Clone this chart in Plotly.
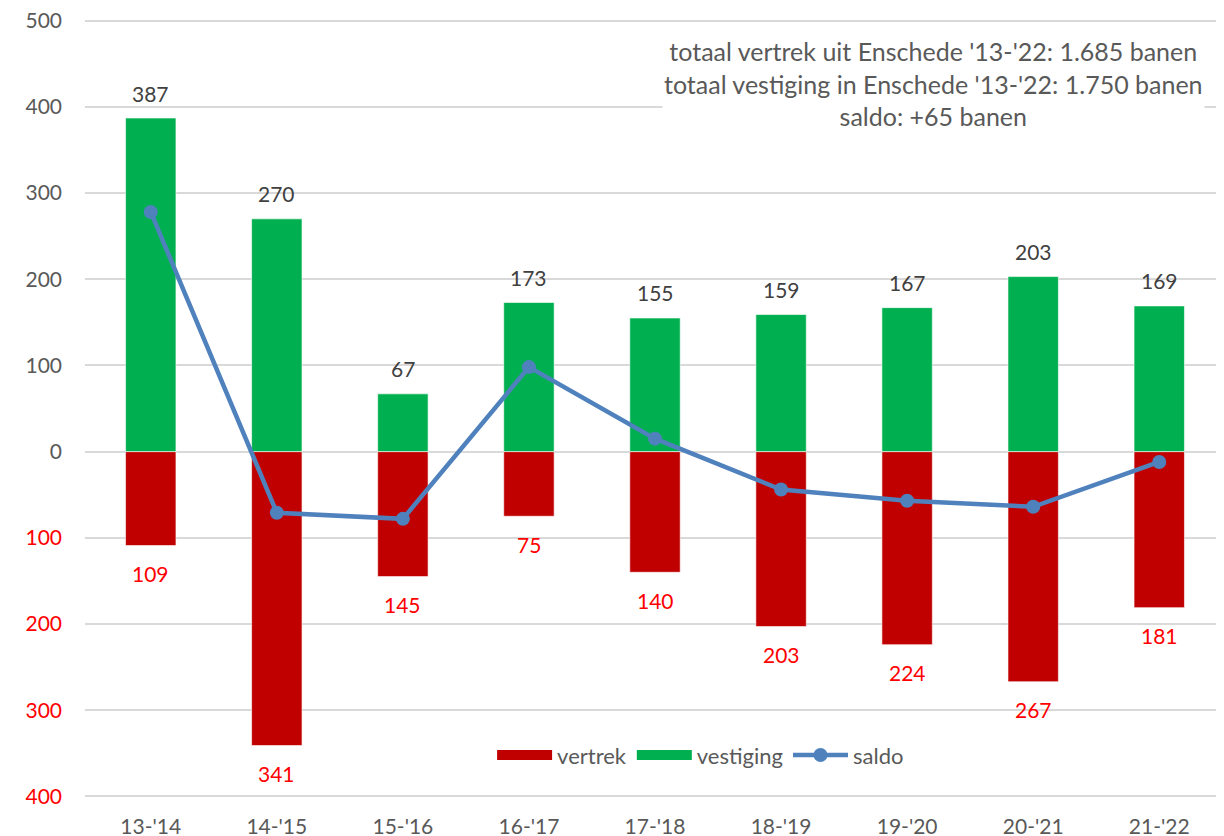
import plotly.graph_objects as go

categories = ["13-'14", "14-'15", "15-'16", "16-'17", "17-'18", "18-'19", "19-'20", "20-'21", "21-'22"]
vestiging = [387, 270, 67, 173, 155, 159, 167, 203, 169]
vertrek = [109, 341, 145, 75, 140, 203, 224, 267, 181]
saldo = [278, -71, -78, 98, 15, -44, -57, -64, -12]

tick_vals = [500, 400, 300, 200, 100, 0, -100, -200, -300, -400]
tick_text = ["500", "400", "300", "200", "100", "0",
             "<span style='color:#FF0000'>100</span>",
             "<span style='color:#FF0000'>200</span>",
             "<span style='color:#FF0000'>300</span>",
             "<span style='color:#FF0000'>400</span>"]

FONT = "Lato, 'Open Sans', sans-serif"
GRAY = "#595959"
RED = "#C00000"
GREEN = "#00B050"
BLUE = "#4F81BD"

fig = go.Figure()
fig.add_trace(go.Bar(
    x=categories, y=[-v for v in vertrek], name="vertrek",
    marker=dict(color=RED, line=dict(color="rgba(255,255,255,0.6)", width=1)),
    showlegend=False,
))
fig.add_trace(go.Bar(
    x=categories, y=vestiging, name="vestiging",
    marker=dict(color=GREEN, line=dict(color="rgba(255,255,255,0.6)", width=1)),
    showlegend=False,
))
# legend-only entries (wide rectangles as in the reference)
fig.add_trace(go.Scatter(x=[None], y=[None], name="vertrek", mode="lines",
                         line=dict(color=RED, width=16)))
fig.add_trace(go.Scatter(x=[None], y=[None], name="vestiging", mode="lines",
                         line=dict(color=GREEN, width=16)))
fig.add_trace(go.Scatter(
    x=categories, y=saldo, name="saldo", mode="lines+markers",
    line=dict(color=BLUE, width=4.5),
    marker=dict(color=BLUE, size=14),
))

annotations = []
for c, v in zip(categories, vestiging):
    annotations.append(dict(x=c, y=v, xref="x", yref="y", text=str(v), showarrow=False,
                            yshift=25, font=dict(size=21, color="#404040", family=FONT)))
for c, v in zip(categories, vertrek):
    annotations.append(dict(x=c, y=-v, xref="x", yref="y", text=str(v), showarrow=False,
                            yshift=-28, font=dict(size=21, color="#FF0000", family=FONT)))
annotations.append(dict(
    x=0.744, y=0.9155, xref="paper", yref="paper", showarrow=False,
    text="totaal vertrek uit Enschede '13-'22: 1.685 banen<br>totaal vestiging in Enschede '13-'22: 1.750 banen<br>saldo: +65 banen",
    align="center", font=dict(size=25, color=GRAY, family=FONT),
    xanchor="center", yanchor="middle", bgcolor="white",
))

fig.update_layout(
    width=1224, height=836,
    barmode="relative", bargap=0.6,
    plot_bgcolor="white", paper_bgcolor="white",
    margin=dict(l=77, r=7, t=10.4, b=45.4, autoexpand=False),
    font=dict(family=FONT, size=21, color=GRAY),
    showlegend=True,
    legend=dict(orientation="h", x=0.54, y=0.056, xanchor="center", yanchor="middle",
                font=dict(size=22, color=GRAY), bgcolor="rgba(0,0,0,0)",
                itemwidth=55, tracegroupgap=0),
    annotations=annotations,
)
fig.update_xaxes(showgrid=False, showline=False, ticks="", automargin=False,
                 tickfont=dict(size=21, color=GRAY), ticklabelstandoff=13)
fig.update_yaxes(range=[-403, 503], tickvals=tick_vals, ticktext=tick_text,
                 showgrid=True, gridcolor="#D9D9D9", gridwidth=2,
                 zeroline=True, zerolinecolor="#D9D9D9", zerolinewidth=2,
                 tickfont=dict(size=21, color=GRAY), ticklabelstandoff=22,
                 ticklabeloverflow="allow", automargin=False)

fig.write_html("out.html")
